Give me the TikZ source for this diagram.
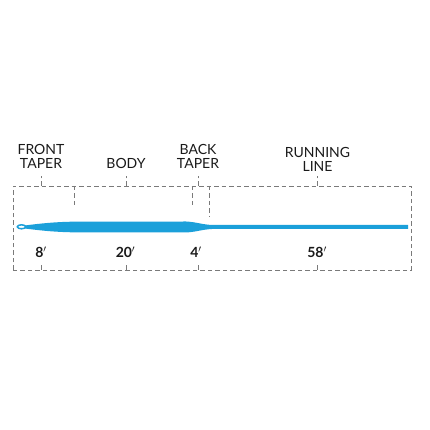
\documentclass[tikz,border=0pt]{standalone}
\usepackage{fontspec}
\setmainfont{Lato}
\usepackage{xcolor}
\definecolor{lineCol}{HTML}{1BA0DA}
\definecolor{guideCol}{HTML}{7A7A7A}
\definecolor{textCol}{HTML}{1A1A1A}

\begin{document}
\begin{tikzpicture}[
    x=1pt, y=1pt,
    section/.style={font=\fontsize{14}{13.5}\selectfont, text=textCol, align=center, inner sep=0pt},
    length/.style={font=\bfseries\fontsize{14}{14}\selectfont, text=textCol, inner sep=0pt},
    guide/.style={draw=guideCol, line width=0.9pt, dash pattern=on 4.5pt off 3pt},
    flyline/.style={fill=lineCol, draw=none}
]
\useasboundingbox (0,0) rectangle (430,430);

% =====================================================================
% SECTION LABELS
% =====================================================================
\node[section] (FRONT) at (41, 273.5) {FRONT\\TAPER};
\node[section] (BODY)  at (126, 266.5) {BODY};
\node[section] (BACK)  at (198, 273.5) {BACK\\TAPER};
\node[section] (RUN)   at (317.5, 270.5) {RUNNING\\LINE};

% =====================================================================
% LENGTHS
% =====================================================================
\node[length] (lFRONT) at (41, 178) {8$'$};
\node[length] (lBODY)  at (125.5, 178) {20$'$};
\node[length] (lBACK)  at (196, 178) {4$'$};
\node[length] (lRUN)   at (317, 178) {58$'$};

% =====================================================================
% GUIDE BOX AND TICKS
% =====================================================================
\draw[guide] (13,160) rectangle (411,244);

\foreach \n/\x in {FRONT/41, BODY/126, BACK/198, RUN/317} {
    \coordinate (top\n) at (\x, 244);
    \coordinate (bot\n) at (\x, 160);
    \draw[guide] (top\n) -- ++(0, 10);
    \draw[guide] (bot\n) -- ++(0, 7);
}

% section borders
\coordinate (bodyStart) at (74, 244);
\coordinate (bodyEnd)   at (192, 244);
\coordinate (runStart)  at (209, 244);
\draw[guide] (bodyStart) -- ++(0, -22);
\draw[guide] (bodyEnd) -- ++(0, -22);
\draw[guide] (runStart) -- ++(0, -31);

% =====================================================================
% FLY LINE
% =====================================================================
\fill[flyline] (24,204.4) .. controls (40,206.5) and (55,208) .. (72,208.3)
    -- (186,208.5) .. controls (196,208) and (202,205.5) .. (212,205)
    -- (408,205) -- (408,201) -- (212,201)
    .. controls (202,200.5) and (196,198) .. (186,197.5)
    -- (72,197.7) .. controls (55,198) and (40,199.5) .. (24,201.6) -- cycle;
\draw[lineCol, line width=1.5pt, fill=white] (21.5,203.2) ellipse (4.2 and 2);

\end{tikzpicture}
\end{document}
